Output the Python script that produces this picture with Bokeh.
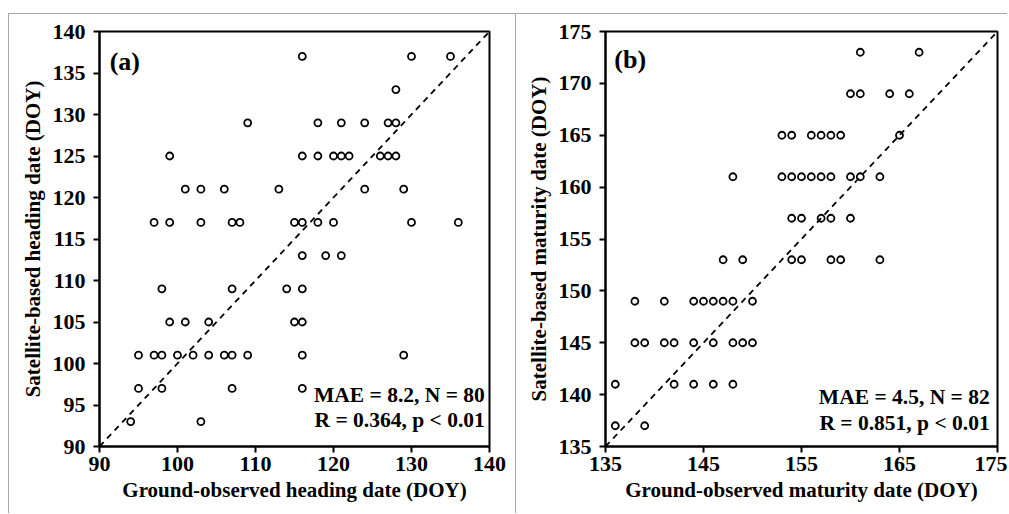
from bokeh.plotting import figure
from bokeh.layouts import row
from bokeh.models import Label, FixedTicker
from bokeh.embed import file_html
from bokeh.resources import INLINE

# ---------------- data: panel (a) heading date ----------------
a_obs = [116, 130, 135,
         128,
         109, 118, 121, 124, 127, 128,
         99, 116, 118, 120, 121, 122, 126, 127, 128,
         101, 103, 106, 113, 124, 129,
         97, 99, 103, 107, 108, 115, 116, 118, 120, 130, 136,
         116, 119, 121,
         98, 107, 114, 116,
         99, 101, 104, 115, 116,
         95, 97, 98, 100, 102, 104, 106, 107, 109, 116, 129,
         95, 98, 107, 116,
         94, 103]
a_sat = [137, 137, 137,
         133,
         129, 129, 129, 129, 129, 129,
         125, 125, 125, 125, 125, 125, 125, 125, 125,
         121, 121, 121, 121, 121, 121,
         117, 117, 117, 117, 117, 117, 117, 117, 117, 117, 117,
         113, 113, 113,
         109, 109, 109, 109,
         105, 105, 105, 105, 105,
         101, 101, 101, 101, 101, 101, 101, 101, 101, 101, 101,
         97, 97, 97, 97,
         93, 93]

# ---------------- data: panel (b) maturity date ----------------
b_obs = [161, 167,
         160, 161, 164, 166,
         153, 154, 156, 157, 158, 159, 165,
         148, 153, 154, 155, 156, 157, 158, 160, 161, 163,
         154, 155, 157, 158, 160,
         147, 149, 154, 155, 158, 159, 163,
         138, 141, 144, 145, 146, 147, 148, 150,
         138, 139, 141, 142, 144, 146, 148, 149, 150,
         136, 142, 144, 146, 148,
         136, 139]
b_sat = [173, 173,
         169, 169, 169, 169,
         165, 165, 165, 165, 165, 165, 165,
         161, 161, 161, 161, 161, 161, 161, 161, 161, 161,
         157, 157, 157, 157, 157,
         153, 153, 153, 153, 153, 153, 153,
         149, 149, 149, 149, 149, 149, 149, 149,
         145, 145, 145, 145, 145, 145, 145, 145, 145,
         141, 141, 141, 141, 141,
         137, 137]

a_xticks = [90, 100, 110, 120, 130, 140]
a_yticks = [90, 95, 100, 105, 110, 115, 120, 125, 130, 135, 140]
b_xticks = [135, 145, 155, 165, 175]
b_yticks = [135, 140, 145, 150, 155, 160, 165, 170, 175]

a_stats = ["MAE = 8.2, N = 80", "R = 0.364, p < 0.01"]
b_stats = ["MAE = 4.5, N = 82", "R = 0.851, p < 0.01"]

FONT = "Liberation Serif"


def make_panel(xs, ys, lo, hi, xticks, yticks, xlabel, ylabel, tag, stats,
               width, height, mb_left, mb_right, margin,
               stat_x, stat_y1, stat_y2, tag_x, tag_y):
    p = figure(width=width, height=height, x_range=(lo, hi), y_range=(lo, hi),
               output_backend="svg", toolbar_location=None,
               min_border_left=mb_left, min_border_right=mb_right,
               min_border_top=17, min_border_bottom=height - 17 - 415)
    p.grid.visible = False
    p.outline_line_color = "black"
    p.outline_line_width = 2
    p.background_fill_color = "white"
    p.border_fill_color = "white"
    p.margin = margin
    p.styles = {"border-left": "1px solid #a8a8a8", "border-top": "1px solid #a8a8a8"}

    # 1:1 line
    p.line([lo, hi], [lo, hi], line_color="black", line_width=1.8, line_dash="6 5")
    p.scatter(xs, ys, marker="circle", size=7, fill_color=None,
              line_color="black", line_width=1.8)

    for ax, ticks in ((p.xaxis[0], xticks), (p.yaxis[0], yticks)):
        ax.ticker = FixedTicker(ticks=ticks)
        ax.minor_tick_line_color = None
        ax.major_tick_in = 0
        ax.major_tick_out = 6
        ax.major_tick_line_width = 2
        ax.axis_line_width = 2
        ax.axis_line_color = "black"
        ax.major_label_text_font = FONT
        ax.major_label_text_font_style = "bold"
        ax.major_label_text_font_size = "22px"
        ax.major_label_text_color = "black"
        ax.axis_label_text_font = FONT
        ax.axis_label_text_font_style = "bold"
        ax.axis_label_text_font_size = "21px"
        ax.axis_label_text_color = "black"
    p.xaxis.axis_label = xlabel
    p.yaxis.axis_label = ylabel
    p.xaxis.major_label_standoff = 4
    p.yaxis.major_label_standoff = 8
    p.xaxis.axis_label_standoff = 4
    p.yaxis.axis_label_standoff = 5

    p.add_layout(Label(x=tag_x, y=tag_y, text=tag, text_font=FONT,
                       text_font_style="bold", text_font_size="26px",
                       text_color="black"))
    p.add_layout(Label(x=stat_x, y=stat_y1, text=stats[0], text_font=FONT,
                       text_font_style="bold", text_font_size="21.5px",
                       text_align="right", text_color="black"))
    p.add_layout(Label(x=stat_x, y=stat_y2, text=stats[1], text_font=FONT,
                       text_font_style="bold", text_font_size="21.5px",
                       text_align="right", text_color="black"))
    return p


pa = make_panel(a_obs, a_sat, 90, 140, a_xticks, a_yticks,
                "Ground-observed heading date (DOY)",
                "Satellite-based heading date (DOY)", "(a)", a_stats,
                width=507, height=500, mb_left=90, mb_right=27, margin=(13, 0, 0, 8),
                stat_x=139.4, stat_y1=94.7, stat_y2=91.8, tag_x=91.3, tag_y=134.6)
pb = make_panel(b_obs, b_sat, 135, 175, b_xticks, b_yticks,
                "Ground-observed maturity date (DOY)",
                "Satellite-based maturity date (DOY)", "(b)", b_stats,
                width=492, height=500, mb_left=89, mb_right=11, margin=(13, 0, 0, 0),
                stat_x=174.2, stat_y1=138.6, stat_y2=136.1, tag_x=135.9, tag_y=170.9)

layout = row(pa, pb, spacing=0)
open("out.html", "w").write(file_html(layout, INLINE))
